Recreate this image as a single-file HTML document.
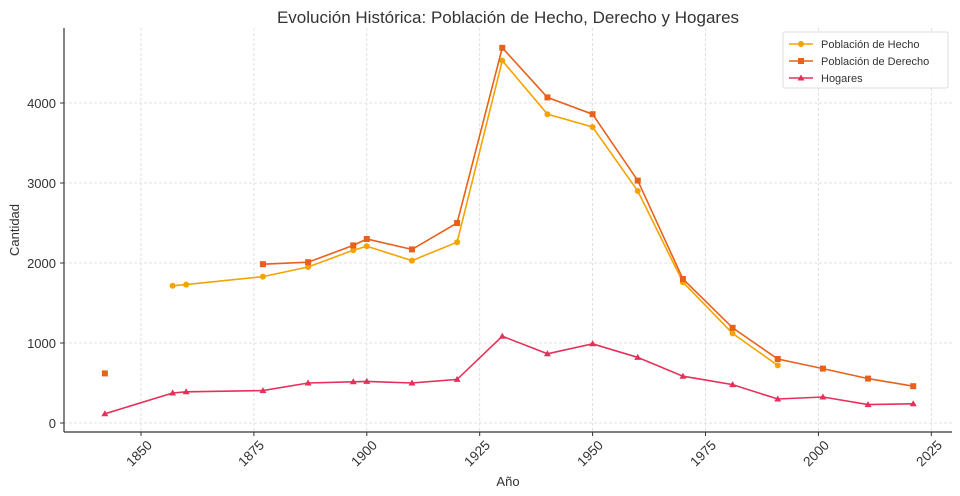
<!DOCTYPE html>
<html><head><meta charset="utf-8"><style>
html,body{margin:0;padding:0;background:#fff;}
svg{display:block;font-family:"Liberation Sans","DejaVu Sans",sans-serif;}
</style></head><body>
<svg id="s" width="960" height="496" viewBox="0 0 960 496">
<text x="508" y="23" font-size="17" text-anchor="middle" fill="#333">Evolución Histórica: Población de Hecho, Derecho y Hogares</text>
<g id="grid" stroke="#d8d8d8" stroke-width="0.8" stroke-dasharray="3,2"></g>
<g stroke="#333" stroke-width="1.2" fill="none">
<line x1="64" y1="28" x2="64" y2="432"/><line x1="64" y1="432" x2="952" y2="432"/>
</g>
<g font-size="13" fill="#333" text-anchor="end">
<text x="56" y="428">0</text><text x="56" y="348">1000</text><text x="56" y="268">2000</text><text x="56" y="188">3000</text><text x="56" y="108">4000</text>
</g>
<g font-size="13.5" fill="#333" text-anchor="end">
<text transform="translate(153,446) rotate(-45)">1850</text>
<text transform="translate(265,446) rotate(-45)">1875</text>
<text transform="translate(378,446) rotate(-45)">1900</text>
<text transform="translate(491,446) rotate(-45)">1925</text>
<text transform="translate(604,446) rotate(-45)">1950</text>
<text transform="translate(717,446) rotate(-45)">1975</text>
<text transform="translate(830,446) rotate(-45)">2000</text>
<text transform="translate(943,446) rotate(-45)">2025</text>
</g>
<text x="508" y="486" font-size="13" text-anchor="middle" fill="#333">Año</text>
<text transform="translate(19,230) rotate(-90)" font-size="13" text-anchor="middle" fill="#333">Cantidad</text>
<g id="data"></g>
<g>
<rect x="783" y="32" width="165" height="56" fill="#fff" fill-opacity="0.9" stroke="#ddd" rx="2"/>
<line x1="789" y1="44" x2="813" y2="44" stroke="#f5a300" stroke-width="1.6"/><circle cx="801" cy="44" r="3" fill="#f5a300"/>
<line x1="789" y1="61" x2="813" y2="61" stroke="#e8611c" stroke-width="1.6"/><rect x="798" y="58" width="6" height="6" fill="#e8611c"/>
<line x1="789" y1="78" x2="813" y2="78" stroke="#e5305a" stroke-width="1.6"/><polygon points="801,74.5 804.5,80.5 797.5,80.5" fill="#e5305a"/>
<g font-size="11" fill="#333"><text x="821" y="48">Población de Hecho</text><text x="821" y="65">Población de Derecho</text><text x="821" y="82">Hogares</text></g>
</g>
</svg>
<script>
var X=y=>141+(y-1850)*4.516, Y=v=>423-v*0.08, ns="http://www.w3.org/2000/svg";
var g=document.getElementById('grid'),d=document.getElementById('data');
function el(p,t,a){var e=document.createElementNS(ns,t);for(var k in a)e.setAttribute(k,a[k]);p.appendChild(e);return e;}
for(var yr=1850;yr<=2025;yr+=25){el(g,'line',{x1:X(yr),x2:X(yr),y1:28,y2:432});el(document.getElementById('s'),'line',{x1:X(yr),x2:X(yr),y1:432,y2:436,stroke:'#333'});}
for(var v=0;v<=4000;v+=1000){el(g,'line',{x1:64,x2:952,y1:Y(v),y2:Y(v)});el(document.getElementById('s'),'line',{x1:60,x2:64,y1:Y(v),y2:Y(v),stroke:'#333'});}
var H=[[1857,1715],[1860,1730],[1877,1830],[1887,1950],[1897,2160],[1900,2210],[1910,2030],[1920,2260],[1930,4530],[1940,3860],[1950,3700],[1960,2900],[1970,1760],[1981,1120],[1991,720]];
var D=[[1877,1985],[1887,2010],[1897,2220],[1900,2300],[1910,2170],[1920,2500],[1930,4690],[1940,4070],[1950,3860],[1960,3030],[1970,1800],[1981,1190],[1991,800],[2001,680],[2011,555],[2021,460]];
var G=[[1842,115],[1857,375],[1860,390],[1877,405],[1887,500],[1897,515],[1900,520],[1910,500],[1920,545],[1930,1085],[1940,865],[1950,990],[1960,820],[1970,585],[1981,480],[1991,300],[2001,325],[2011,230],[2021,240]];
function series(pts,c,m){el(d,'polyline',{points:pts.map(p=>X(p[0])+','+Y(p[1])).join(' '),fill:'none',stroke:c,'stroke-width':1.6});
pts.forEach(p=>{var x=X(p[0]),y=Y(p[1]);if(m=='o')el(d,'circle',{cx:x,cy:y,r:3,fill:c});else if(m=='s')el(d,'rect',{x:x-3,y:y-3,width:6,height:6,fill:c});else el(d,'polygon',{points:x+','+(y-3.5)+' '+(x+3.5)+','+(y+2.5)+' '+(x-3.5)+','+(y+2.5),fill:c});});}
series(G,'#e5305a','t');series(H,'#f5a300','o');series(D,'#e8611c','s');
el(d,'rect',{x:X(1842)-3,y:Y(620)-3,width:6,height:6,fill:'#e8611c'});
</script>
</body></html>
